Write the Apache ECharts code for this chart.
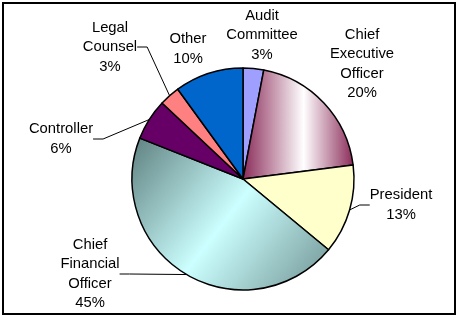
<!DOCTYPE html>
<html>
<head>
<meta charset="utf-8">
<script src="https://cdn.jsdelivr.net/npm/echarts@6/dist/echarts.min.js"></script>
<style>
  html, body { margin: 0; padding: 0; background: #fff; }
  #chart { width: 460px; height: 318px; }
</style>
</head>
<body>
<div id="chart"></div>
<script>
  // slices, clockwise from 12 o'clock
  var categories = ['Audit\nCommittee', 'Chief\nExecutive\nOfficer', 'President',
    'Chief\nFinancial\nOfficer', 'Controller', 'Legal\nCounsel', 'Other'];
  var shares = [3, 20, 13, 45, 6, 3, 10];

  // where each label sits, and whether it gets a leader line
  var labelSpots = [[262, 35], [362, 64], [401, 205], [90, 274], [61, 139], [110, 47], [188, 49]];
  var hasLine = [false, false, true, true, true, true, false];

  var fills = [
    '#9f9fff',
    { type: 'linear', x: 0, y: 0, x2: 1, y2: 0,
      colorStops: [{ offset: 0, color: '#8a2a58' }, { offset: 0.55, color: '#ffffff' }, { offset: 1, color: '#8a2a58' }] },
    '#ffffcc',
    { type: 'linear', x: 0, y: 0, x2: 1, y2: 1,
      colorStops: [{ offset: 0, color: '#5e7f7f' }, { offset: 0.5, color: '#ccffff' }, { offset: 1, color: '#6f9191' }] },
    '#660066',
    '#ff8080',
    '#0066cc'
  ];

  var myChart = echarts.init(document.getElementById('chart'));
  myChart.setOption({
    animation: false,
    graphic: [{
      type: 'rect',
      shape: { x: 3, y: 3, width: 452, height: 311 },
      style: { fill: 'none', stroke: '#000', lineWidth: 2 }
    }],
    series: [{
      type: 'pie',
      center: [243, 179],
      radius: 111,
      startAngle: 90,
      clockwise: true,
      avoidLabelOverlap: false,
      itemStyle: { borderColor: '#000', borderWidth: 1.5 },
      label: {
        show: true,
        formatter: function (p) { return p.name + '\n' + p.value + '%'; },
        fontFamily: 'Liberation Sans, Arial, sans-serif',
        fontSize: 14.8,
        lineHeight: 19.5,
        color: '#000',
        align: 'center'
      },
      labelLine: { show: true, length: 10, length2: 10, lineStyle: { color: '#000', width: 1 } },
      labelLayout: function (p) {
        var s = labelSpots[p.dataIndex];
        return { x: s[0], y: s[1], align: 'center', verticalAlign: 'middle' };
      },
      emphasis: { disabled: true },
      data: categories.map(function (c, i) {
        return {
          name: c,
          value: shares[i],
          itemStyle: { color: fills[i] },
          labelLine: { show: hasLine[i] }
        };
      })
    }]
  });

  window.addEventListener('resize', function () {
    myChart.resize();
  });
</script>
</body>
</html>
